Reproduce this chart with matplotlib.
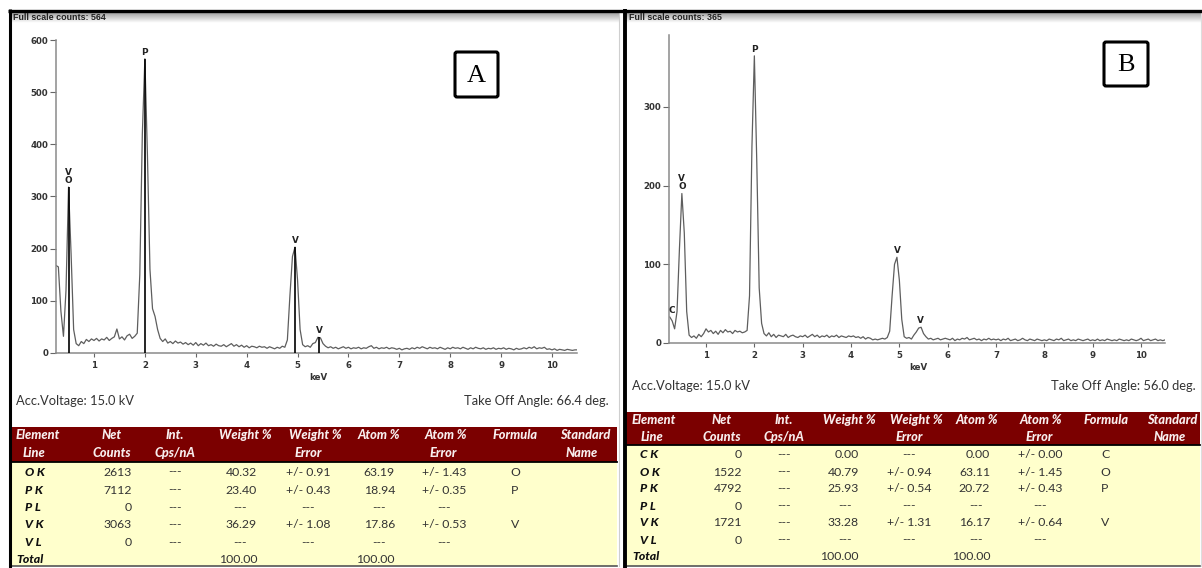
import numpy as np
import matplotlib
matplotlib.use("Agg")
import matplotlib.pyplot as plt
from matplotlib.patches import Rectangle, FancyBboxPatch

# ---------------- spectrum data (counts per 0.05 keV channel) ----------------
start_kev_a = 0.25
counts_a = [
    168, 165, 80, 32, 120, 318, 190, 45, 18, 14, 22, 18, 26, 22, 27,                 # 0.25-0.95
    24, 28, 23, 27, 25, 30, 24, 28, 31, 46, 27, 31, 25, 33, 36, 28, 32, 38, 150, 420,  # 1.00-1.95
    564, 380, 160, 85, 70, 45, 28, 22, 27, 19, 22, 18, 23, 19, 21, 17, 20, 16, 19, 15,  # 2.00-2.95
    20, 14, 18, 15, 19, 14, 16, 13, 17, 14, 13, 16, 12, 15, 18, 13, 16, 12, 15, 11,    # 3.00-3.95
    14, 10, 13, 12, 10, 13, 11, 12, 9, 12, 10, 8, 11, 9, 13, 11, 25, 110, 185, 203,   # 4.00-4.95
    140, 45, 16, 12, 14, 11, 18, 20, 30, 29, 18, 13, 10, 12, 9, 11, 8, 10, 12, 9,     # 5.00-5.95
    11, 8, 10, 9, 11, 8, 10, 9, 12, 14, 9, 11, 8, 10, 9, 11, 8, 10, 9, 7,             # 6.00-6.95
    9, 6, 8, 9, 7, 10, 8, 11, 9, 12, 10, 8, 11, 9, 10, 8, 11, 9, 7, 10,               # 7.00-7.95
    8, 11, 9, 10, 8, 11, 9, 7, 10, 8, 11, 9, 8, 10, 7, 9, 8, 10, 7, 9,                # 8.00-8.95
    8, 10, 7, 9, 8, 6, 9, 7, 8, 10, 8, 11, 9, 12, 8, 10, 9, 11, 7, 8,                 # 9.00-9.95
    6, 8, 5, 7, 6, 5, 7, 6, 5, 6, 6,                                                  # 10.00-10.50
]

start_kev_b = 0.25
counts_b = [
    33, 28, 18, 40, 120, 190, 140, 40, 10, 7, 9, 6, 11, 8, 12,                       # 0.25-0.95
    18, 14, 16, 12, 15, 11, 16, 13, 17, 14, 15, 12, 16, 14, 15, 13, 14, 16, 60, 250,  # 1.00-1.95
    365, 230, 70, 25, 12, 9, 13, 8, 11, 7, 10, 9, 8, 11, 7, 9, 10, 8, 7, 9,           # 2.00-2.95
    8, 10, 7, 9, 11, 8, 10, 7, 9, 8, 10, 7, 9, 8, 10, 7, 9, 8, 7, 9,                  # 3.00-3.95
    8, 9, 7, 8, 6, 8, 5, 7, 6, 4, 5, 4, 5, 6, 5, 7, 15, 60, 100, 109,                 # 4.00-4.95
    80, 30, 8, 6, 7, 5, 10, 14, 19, 20, 12, 8, 5, 6, 4, 5, 6, 4, 5, 6,                # 5.00-5.95
    5, 4, 6, 3, 5, 4, 6, 5, 7, 4, 5, 6, 4, 5, 3, 5, 4, 6, 4, 5,                       # 6.00-6.95
    4, 5, 3, 5, 4, 6, 3, 4, 5, 3, 4, 6, 4, 3, 5, 4, 3, 5, 4, 3,                       # 7.00-7.95
    4, 3, 5, 4, 3, 5, 4, 6, 3, 4, 5, 3, 4, 3, 5, 4, 3, 4, 5, 3,                       # 8.00-8.95
    4, 3, 5, 3, 4, 3, 5, 4, 3, 4, 3, 5, 4, 3, 4, 3, 5, 4, 3, 4,                       # 9.00-9.95
    6, 3, 4, 5, 3, 4, 5, 3, 4, 3, 4,                                                  # 10.00-10.50
]

# element line markers
lines_kev_a = [0.50, 2.00, 4.95, 5.43]
lines_height_a = [318, 564, 203, 30]
lines_label_a = ["V\nO", "P", "V", "V"]

lines_kev_b = [0.29, 0.50, 2.00, 4.95, 5.43]
lines_height_b = [33, 190, 365, 109, 20]
lines_label_b = ["C", "V\nO", "P", "V", "V"]

full_scale_a = 564
full_scale_b = 365
take_off_a = "66.4"
take_off_b = "56.0"
voltage = "15.0"

# ---------------- quantification tables ----------------
header_top = ["Element", "Net", "Int.", "Weight %", "Weight %", "Atom %", "Atom %", "Formula", "Standard"]
header_bot = ["Line", "Counts", "Cps/nA", "", "Error", "", "Error", "", "Name"]

rows_a = ["O K", "P K", "P L", "V K", "V L"]
net_a = ["2613", "7112", "0", "3063", "0"]
int_a = ["---", "---", "---", "---", "---"]
wt_a = ["40.32", "23.40", "---", "36.29", "---"]
wt_err_a = ["+/- 0.91", "+/- 0.43", "---", "+/- 1.08", "---"]
at_a = ["63.19", "18.94", "---", "17.86", "---"]
at_err_a = ["+/- 1.43", "+/- 0.35", "---", "+/- 0.53", "---"]
formula_a = ["O", "P", "", "V", ""]
total_wt_a, total_at_a = "100.00", "100.00"

rows_b = ["C K", "O K", "P K", "P L", "V K", "V L"]
net_b = ["0", "1522", "4792", "0", "1721", "0"]
int_b = ["---", "---", "---", "---", "---", "---"]
wt_b = ["0.00", "40.79", "25.93", "---", "33.28", "---"]
wt_err_b = ["---", "+/- 0.94", "+/- 0.54", "---", "+/- 1.31", "---"]
at_b = ["0.00", "63.11", "20.72", "---", "16.17", "---"]
at_err_b = ["+/- 0.00", "+/- 1.45", "+/- 0.43", "---", "+/- 0.64", "---"]
formula_b = ["C", "O", "P", "", "V", ""]
total_wt_b, total_at_b = "100.00", "100.00"

# ---------------- figure setup ----------------
W, H = 1202, 568
fig = plt.figure(figsize=(W / 100, H / 100), dpi=100)
bg = fig.add_axes([0, 0, 1, 1])
bg.axis("off")

TXT = "#333333"
DARK_RED = "#7b0000"
PALE = "#ffffcc"
HEAD_TXT = "#f8eeee"
TFONT = ["Lato", "DejaVu Sans"]
TSIZE = 8.8
HSIZE = 9.2


def px_axes(left, right, bottom, top):
    return fig.add_axes([left / W, 1 - bottom / H, (right - left) / W, (bottom - top) / H])


def draw_spectrum(ax, start, counts, xlim, ylim, yticks, kev, heights, labels, markers):
    energy = start + 0.05 * np.arange(len(counts))
    ax.plot(energy, counts, color="#5e5e5e", lw=0.9, zorder=2)
    if markers:
        ax.vlines(kev, 0, heights, color="black", lw=1.2, zorder=3)
    for e, h, lab in zip(kev, heights, labels):
        ax.annotate(lab, (e, h), xytext=(0, 1.5), textcoords="offset points",
                    ha="center", va="bottom", fontsize=6.4, fontweight="bold",
                    color="#222222", linespacing=0.9)
    ax.set_xlim(*xlim)
    ax.set_ylim(*ylim)
    ax.set_xticks(range(1, 11))
    ax.set_yticks(yticks)
    ax.patch.set_alpha(0)
    for s in ("top", "right"):
        ax.spines[s].set_visible(False)
    for s in ("left", "bottom"):
        ax.spines[s].set_color("#8a8a8a")
        ax.spines[s].set_linewidth(1.1)
    ax.tick_params(axis="y", direction="out", length=4, width=0.8, color="#666666",
                   labelsize=6.2, labelcolor="#333333", pad=1.5)
    ax.tick_params(axis="x", direction="out", length=3, width=0.8, color="#666666",
                   labelsize=6.2, labelcolor="#333333", pad=2.5)
    for lbl in ax.get_xticklabels() + ax.get_yticklabels():
        lbl.set_fontweight("bold")


# spectrum A
ax_a = px_axes(43.1 + 50.89 * 0.25, 43.1 + 50.89 * 10.5, 353, 40)
draw_spectrum(ax_a, start_kev_a, counts_a, (0.25, 10.5), (0, 600), range(0, 601, 100),
              lines_kev_a, lines_height_a, lines_label_a, True)

# spectrum B
ax_b = px_axes(657.7 + 48.33 * 0.23, 657.7 + 48.33 * 10.5, 343, 35)
draw_spectrum(ax_b, start_kev_b, counts_b, (0.23, 10.5), (0, 391.5), range(0, 301, 100),
              lines_kev_b, lines_height_b, lines_label_b, False)

# ---------------- frames, headers ----------------
grad = np.linspace(0.62, 1.0, 20)
grad_img = np.dstack([grad, grad, grad]).reshape(20, 1, 3)
bg.imshow(grad_img, extent=(10, 620, 23, 12), aspect="auto", origin="upper", zorder=1)
bg.imshow(grad_img, extent=(626, 1202, 23, 12), aspect="auto", origin="upper", zorder=1)

bg.plot([8, 623], [10.5, 10.5], color="black", lw=2.4, solid_capstyle="butt", zorder=5)
bg.plot([623, 1202], [10.5, 10.5], color="black", lw=2.4, solid_capstyle="butt", zorder=5)
bg.plot([9.5, 9.5], [9, 568], color="black", lw=2.2, solid_capstyle="butt", zorder=5)
bg.plot([624.5, 624.5], [9, 568], color="black", lw=2.8, solid_capstyle="butt", zorder=5)
bg.plot([618.5, 618.5], [12, 566], color="#cfcfcf", lw=0.8, zorder=4)
bg.plot([1200.5, 1200.5], [12, 566], color="#dddddd", lw=0.8, zorder=4)

bg.text(13, 17.5, f"Full scale counts: {full_scale_a}", fontsize=6.4, fontweight="bold",
        family="Liberation Sans", color="#222222", va="center", ha="left", zorder=6)
bg.text(629, 17.5, f"Full scale counts: {full_scale_b}", fontsize=6.4, fontweight="bold",
        family="Liberation Sans", color="#222222", va="center", ha="left", zorder=6)

bg.text(318, 378, "keV", fontsize=6.2, fontweight="bold", color="#333333", ha="center", va="center")
bg.text(918, 368, "keV", fontsize=6.2, fontweight="bold", color="#333333", ha="center", va="center")

# panel letters
for (x0, y0, w, h, letter) in [(455, 52, 43, 45, "A"), (1104, 42, 44, 44, "B")]:
    bg.add_patch(FancyBboxPatch((x0, y0), w, h, boxstyle="round,pad=0,rounding_size=2",
                                fc="white", ec="black", lw=2.2, zorder=6))
    bg.text(x0 + w / 2, y0 + h / 2 + 1, letter, family="Liberation Serif", fontsize=19,
            ha="center", va="center", color="black", zorder=7)

# acquisition info
bg.text(16, 401, f"Acc.Voltage: {voltage} kV", family=TFONT, fontsize=9.3, color=TXT, va="center")
bg.text(609, 401, f"Take Off Angle: {take_off_a} deg.", family=TFONT, fontsize=9.3, color=TXT,
        va="center", ha="right")
bg.text(632, 386, f"Acc.Voltage: {voltage} kV", family=TFONT, fontsize=9.3, color=TXT, va="center")
bg.text(1196, 386, f"Take Off Angle: {take_off_b} deg.", family=TFONT, fontsize=9.3, color=TXT,
        va="center", ha="right")


def draw_table(x0, x1, top, split, bottom, h1, h2, heads_top, heads_bot, label_x, total_x,
               row_y, total_y, rows, cols, totals):
    bg.add_patch(Rectangle((x0, top), x1 - x0, split - top, fc=DARK_RED, ec="none", zorder=2))
    bg.add_patch(Rectangle((x0, split), x1 - x0, bottom - split, fc=PALE, ec="none", zorder=2))
    bg.plot([x0, x1], [split, split], color="black", lw=1.3, zorder=3)
    bg.plot([x0, x1], [bottom, bottom], color="#555555", lw=1.2, zorder=3)
    for (txt, x, ha) in heads_top:
        bg.text(x, h1, txt, family=TFONT, fontsize=HSIZE, fontweight="black", style="italic",
                color=HEAD_TXT, ha=ha, va="center", zorder=4)
    for (txt, x, ha) in heads_bot:
        bg.text(x, h2, txt, family=TFONT, fontsize=HSIZE, fontweight="black", style="italic",
                color=HEAD_TXT, ha=ha, va="center", zorder=4)
    for lab, y in zip(rows, row_y):
        bg.text(label_x, y, lab, family=TFONT, fontsize=TSIZE, fontweight="black", style="italic",
                color="#111111", ha="left", va="center", zorder=4)
    for values, num_x, num_ha, dash_x in cols:
        for v, y in zip(values, row_y):
            if v == "---":
                bg.text(dash_x, y, v, family=TFONT, fontsize=TSIZE, color=TXT, ha="center",
                        va="center", zorder=4)
            elif v:
                bg.text(num_x, y, v, family=TFONT, fontsize=TSIZE, color=TXT, ha=num_ha,
                        va="center", zorder=4)
    bg.text(total_x, total_y, "Total", family=TFONT, fontsize=TSIZE, fontweight="black",
            style="italic", color="#111111", ha="left", va="center", zorder=4)
    for v, x in totals:
        bg.text(x, total_y, v, family=TFONT, fontsize=TSIZE, color=TXT, ha="right", va="center",
                zorder=4)


# table A
xa_top = [16, 112, 175, 245, 315, 379, 446, 515, 585]
xa_bot = [23, 112, 175, None, 308, None, 443, None, 582]
draw_table(
    10.5, 617, 427, 462, 566, 435, 453,
    [(t, x, "left" if i == 0 else "center") for i, (t, x) in enumerate(zip(header_top, xa_top))],
    [(t, x, "left" if i == 0 else "center") for i, (t, x) in enumerate(zip(header_bot, xa_bot)) if t],
    25, 16, [472, 490, 507.5, 525, 543], 559.5, rows_a,
    [(net_a, 132, "right", 123), (int_a, 175, "center", 175), (wt_a, 257, "right", 240),
     (wt_err_a, 308, "center", 308), (at_a, 395, "right", 379), (at_err_a, 444, "center", 444),
     (formula_a, 515, "center", 515)],
    [(total_wt_a, 258), (total_at_a, 395)],
)

# table B
xb_top = [632, 722, 784, 849, 916, 977, 1041, 1106, 1172]
xb_bot = [641, 722, 784, None, 909, None, 1039, None, 1170]
draw_table(
    626, 1200, 412, 445, 566, 420, 437,
    [(t, x, "left" if i == 0 else "center") for i, (t, x) in enumerate(zip(header_top, xb_top))],
    [(t, x, "left" if i == 0 else "center") for i, (t, x) in enumerate(zip(header_bot, xb_bot)) if t],
    640, 632, [455, 472, 489, 506, 523, 540], 556, rows_b,
    [(net_b, 742, "right", 734), (int_b, 784, "center", 784), (wt_b, 859, "right", 845),
     (wt_err_b, 909, "center", 909), (at_b, 990, "right", 976), (at_err_b, 1040, "center", 1040),
     (formula_b, 1105, "center", 1105)],
    [(total_wt_b, 859), (total_at_b, 991)],
)

bg.set_xlim(0, W)
bg.set_ylim(H, 0)

fig.savefig("out.png", dpi=100)
